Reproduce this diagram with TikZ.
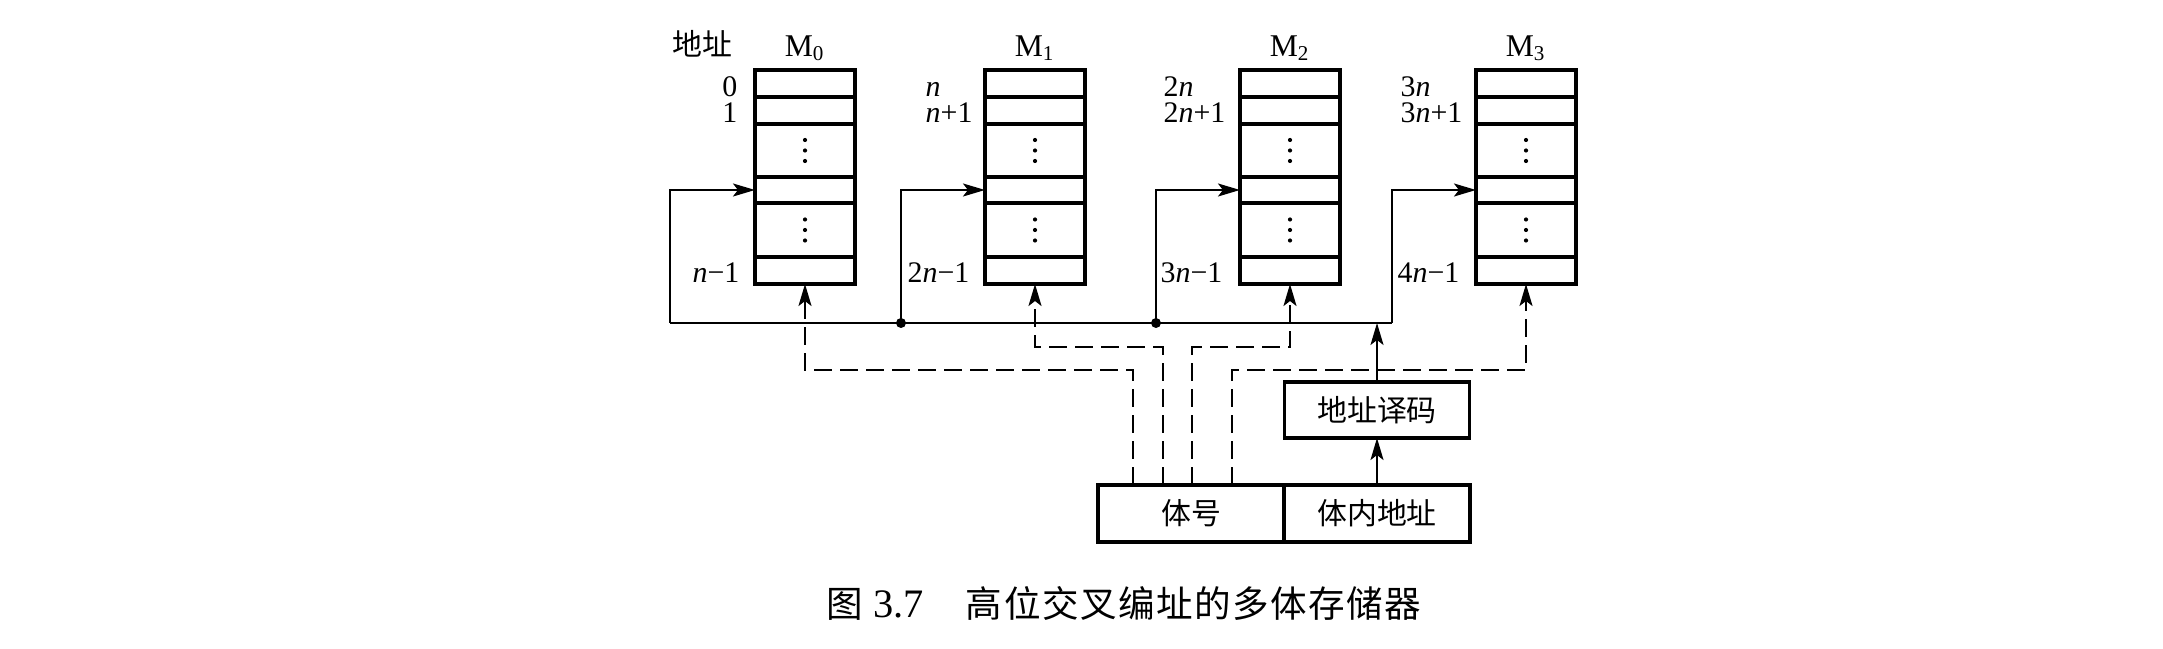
\documentclass[tikz,border=0pt]{standalone}
\usepackage{fontspec}
\setmainfont{Liberation Serif}
\newfontfamily\cjk{Noto Sans CJK SC}
\newfontfamily\cjkcap[LetterSpace=4]{Noto Sans CJK SC}
\usetikzlibrary{arrows.meta,calc}
\begin{document}
\begin{tikzpicture}[x=0.01cm,y=-0.01cm,
  cell/.style={draw,line width=0.95pt,minimum width=1cm,inner sep=0,outer sep=0},
  lab/.style={inner sep=0,font=\fontsize{8.5}{10}\selectfont},
  mlab/.style={inner sep=0,font=\fontsize{9}{10}\selectfont},
  cjklab/.style={inner sep=0,font=\cjk\fontsize{8.5}{10}\selectfont},
  wire/.style={line width=0.55pt},
  arr/.style={wire,-{Stealth[length=0.22cm,width=0.13cm,inset=0.05cm]}},
  darr/.style={arr,dash pattern=on 0.18cm off 0.08cm},
  bigbox/.style={draw,line width=0.95pt,inner sep=0,outer sep=0,font=\cjk\fontsize{8.5}{10}\selectfont},
]
\useasboundingbox[fill=white] (0,0) rectangle (2163,649);

% memory banks
\foreach \i/\x in {0/805,1/1035,2/1290,3/1526}{
  \node[cell,minimum height=0.27cm] (m\i-a) at (\x,83.5) {};
  \node[cell,minimum height=0.27cm] (m\i-b) at (\x,110.5) {};
  \node[cell,minimum height=0.53cm] (m\i-c) at (\x,150.5) {};
  \node[cell,minimum height=0.26cm] (m\i-d) at (\x,190) {};
  \node[cell,minimum height=0.54cm] (m\i-e) at (\x,230) {};
  \node[cell,minimum height=0.27cm] (m\i-f) at (\x,270.5) {};
  \foreach \r in {c,e}{
    \foreach \d in {-10.5,0,10.5}{
      \fill ($(m\i-\r.center)+(0,\d)$) circle[radius=0.021cm];
    }
  }
  \node[mlab,anchor=base] (ml\i) at (\x,57) {M\textsubscript{\i}};
}

\node[cjklab] (addr) at (702,44) {地址};

% address labels
\node[lab,anchor=base east] (a00) at (738,97) {0};
\node[lab,anchor=base east] (a01) at (738,123) {1};
\node[lab,anchor=base east] (a0n) at (740,283) {\textit{n}−1};
\node[lab,anchor=base west] (a10) at (925,97) {\textit{n}};
\node[lab,anchor=base west] (a11) at (925,123) {\textit{n}+1};
\node[lab,anchor=base east] (a1n) at (970,283) {2\textit{n}−1};
\node[lab,anchor=base west] (a20) at (1163,97) {2\textit{n}};
\node[lab,anchor=base west] (a21) at (1163,123) {2\textit{n}+1};
\node[lab,anchor=base east] (a2n) at (1223,283) {3\textit{n}−1};
\node[lab,anchor=base west] (a30) at (1400,97) {3\textit{n}};
\node[lab,anchor=base west] (a31) at (1400,123) {3\textit{n}+1};
\node[lab,anchor=base east] (a3n) at (1460,283) {4\textit{n}−1};

% bus
\coordinate (f0) at (670,323);
\coordinate (f1) at (901,323);
\coordinate (f2) at (1156,323);
\coordinate (f3) at (1392,323);
\draw[wire] (f0) -- (f3);
\foreach \i in {0,1,2,3}{
  \draw[arr] (f\i) |- (m\i-d.west);
}
\fill (f1) circle[radius=0.05cm];
\fill (f2) circle[radius=0.05cm];

% decoder and address register
\node[bigbox,minimum width=1.85cm,minimum height=0.56cm] (dec) at (1377,410) {地址译码};
\node[bigbox,minimum width=1.86cm,minimum height=0.57cm] (bh) at (1191,513.5) {体号};
\node[bigbox,minimum width=1.86cm,minimum height=0.57cm] (bn) at (1377,513.5) {体内地址};
\draw[arr] (bn.north) -- (dec.south);
\draw[arr] (dec.north) -- (dec.north |- f3);

% bank select lines
\coordinate (t0) at ($(bh.north west)+(35,0)$);
\coordinate (t1) at ($(bh.north west)+(65,0)$);
\coordinate (t2) at ($(bh.north west)+(94,0)$);
\coordinate (t3) at ($(bh.north west)+(134,0)$);
\draw[darr] (t0) -- ++(0,-115) -| (m0-f.south);
\draw[darr] (t1) -- ++(0,-138) -| (m1-f.south);
\draw[darr] (t2) -- ++(0,-138) -| (m2-f.south);
\draw[darr] (t3) -- ++(0,-115) -| (m3-f.south);

% caption
\node[anchor=base west,inner sep=0,font=\fontsize{11.5}{13}\selectfont] (cap) at (826,617)
  {{\cjkcap\fontsize{10.4}{13}\selectfont 图} 3.7\hspace{0.42cm}{\cjkcap\fontsize{10.4}{13}\selectfont 高位交叉编址的多体存储器}};
\end{tikzpicture}
\end{document}
